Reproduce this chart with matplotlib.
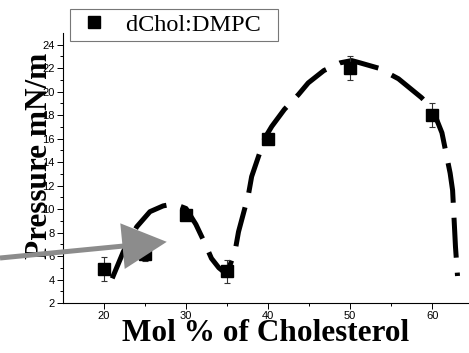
import matplotlib
matplotlib.use("Agg")
import matplotlib.pyplot as plt
from matplotlib.lines import Line2D

# Measured surface pressure versus cholesterol content
chol_pct = [20, 25, 30, 35, 40, 50, 60]
pressure = [4.9, 6.2, 9.5, 4.7, 16.0, 22.0, 18.0]
pressure_err = [1.0, 0.6, 0.3, 1.0, 0.3, 1.0, 1.0]

# Fitted trend curve (x, y)
fit_x = [21.0, 22.35, 23.2, 24.0, 25.6, 27.2, 28.5, 30.0, 31.2, 32.3, 33.1, 34.0,
         34.7, 35.4, 36.0, 36.4, 37.6, 38.0, 39.6, 40.45, 42.0, 43.7, 44.9, 46.8,
         48.8, 50.2, 51.2, 53.5, 55.9, 57.3, 58.7, 60.0, 61.2, 62.2, 62.5, 62.75,
         62.85, 63.1]
fit_y = [4.1, 6.36, 7.5, 8.5, 9.78, 10.27, 10.45, 10.05, 8.7, 7.08, 5.8, 5.0,
         4.6, 5.3, 6.5, 8.07, 11.2, 12.77, 16.05, 17.04, 18.5, 19.75, 20.75, 21.8,
         22.46, 22.65, 22.46, 22.0, 21.1, 20.3, 19.5, 18.6, 16.5, 13.06, 11.6, 8.2,
         6.8, 4.3]

x_ticks = [20, 30, 40, 50, 60]
y_ticks = [2, 4, 6, 8, 10, 12, 14, 16, 18, 20, 22, 24]

fig = plt.figure(figsize=(4.69, 3.53), dpi=100)
ax = fig.add_axes([63 / 469, 50 / 353, 406 / 469, 270 / 353])

serif = ["Liberation Serif", "DejaVu Serif"]
sans = ["Liberation Sans", "DejaVu Sans"]

ax.plot(fit_x, fit_y, color="black", lw=3.6, dashes=(8, 3),
        solid_capstyle="butt", dash_capstyle="butt", zorder=2)
ax.errorbar(chol_pct, pressure, yerr=pressure_err, fmt="s", color="black",
            markersize=8, ecolor="#333333", elinewidth=0.8, capsize=2.2,
            capthick=0.8, zorder=3)

ax.set_xlim(15, 64.5)
ax.set_ylim(2, 25)
ax.set_xticks(x_ticks)
ax.set_xticks([25, 35, 45, 55], minor=True)
ax.set_yticks(y_ticks)
ax.set_yticks([3, 5, 7, 9, 11, 13, 15, 17, 19, 21, 23], minor=True)
ax.tick_params(which="major", direction="out", length=4.3, width=0.7,
               labelsize=8, pad=1.5)
ax.tick_params(which="minor", direction="out", length=2.2, width=0.7)
for lab in ax.get_xticklabels() + ax.get_yticklabels():
    lab.set_family(sans)

for side in ("top", "right"):
    ax.spines[side].set_visible(False)
for side in ("left", "bottom"):
    ax.spines[side].set_linewidth(0.8)

ax.set_xlabel("Mol % of Cholesterol", family=serif, fontweight="bold",
              fontsize=22.5)
ax.xaxis.set_label_coords(0.5, -0.058)
ax.set_ylabel("Pressure mN/m", family=serif, fontweight="bold", fontsize=22.5)
ax.yaxis.set_label_coords(-0.023, 0.544)
ax.yaxis.label.set_zorder(5)

# Marker-only legend entry in a plain square frame
handle = Line2D([], [], ls="none", marker="s", markersize=8, color="black")
leg = fig.legend([handle], ["dChol:DMPC  "], loc="upper left",
                 bbox_to_anchor=(70 / 469, 344 / 353),
                 prop={"family": serif, "size": 17.5}, frameon=True,
                 fancybox=False, borderaxespad=0, borderpad=0.2,
                 handlelength=1.6, handletextpad=0.5)
leg.get_frame().set_edgecolor("#555555")
leg.get_frame().set_linewidth(0.8)

# Grey pointer arrow entering from the left edge
ax.annotate("", xy=(27.65, 7.21), xycoords="data",
            xytext=(0, 95), textcoords="figure pixels",
            arrowprops=dict(arrowstyle="simple,head_length=3.2,head_width=3.3,tail_width=0.36",
                            mutation_scale=10, color="#8c8c8c", shrinkA=0,
                            shrinkB=0, lw=0),
            annotation_clip=False, zorder=6)

fig.savefig("out.png", dpi=100)
